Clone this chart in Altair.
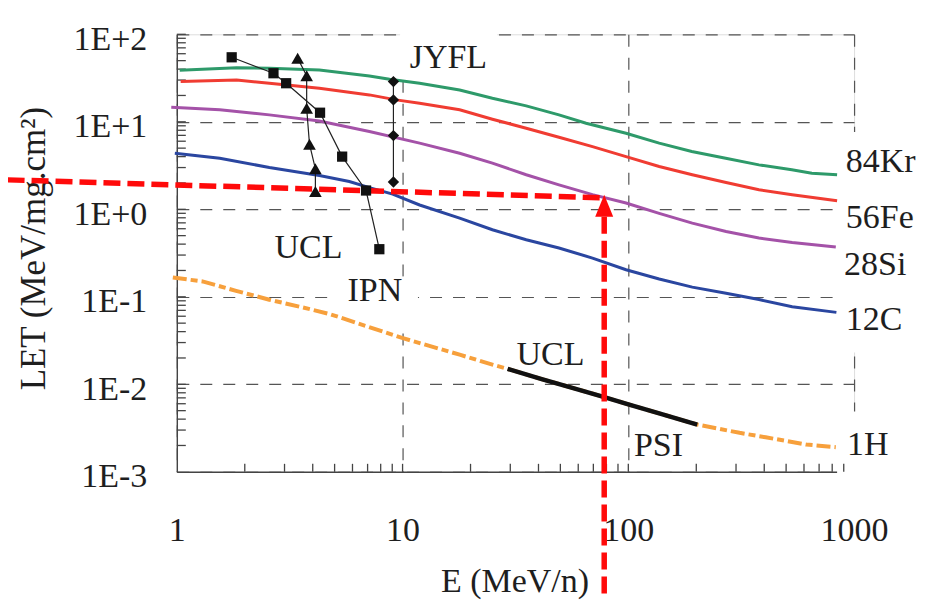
import altair as alt
import pandas as pd

# ---------------- data ----------------
# Stopping-power curves: energy (MeV/n) vs LET (MeV/mg.cm2)
kr_e = [1.03, 1.84, 2.57, 4.28, 7.13, 8.76, 11.9, 17.9, 25.0, 35.3, 49.3, 65.0, 97.7, 137, 191, 270, 379, 530, 650, 841]
kr_let = [38.8, 41.5, 40.9, 39.1, 33.4, 30.6, 27.6, 23.1, 18.6, 15.2, 12.0, 9.64, 7.41, 5.70, 4.57, 3.84, 3.22, 2.83, 2.59, 2.48]
fe_e = [1.04, 1.84, 2.57, 4.28, 7.13, 9.37, 11.9, 17.9, 25.0, 35.3, 49.3, 69.4, 97.7, 137, 192, 271, 379, 532, 841]
fe_let = [28.8, 30.0, 27.6, 24.2, 20.3, 17.8, 16.3, 13.7, 10.7, 8.45, 6.67, 5.21, 4.0, 3.08, 2.48, 2.02, 1.67, 1.47, 1.25]
si_e = [0.945, 1.55, 2.57, 4.28, 7.13, 11.9, 17.9, 25.0, 35.3, 49.3, 69.4, 97.7, 137, 192, 271, 379, 532, 830]
si_let = [14.7, 13.7, 12.0, 10.2, 7.73, 5.70, 4.37, 3.37, 2.48, 1.90, 1.47, 1.18, 0.90, 0.695, 0.558, 0.469, 0.418, 0.370]
c_e = [0.98, 1.55, 2.57, 4.28, 5.81, 7.13, 9.04, 11.9, 17.9, 25.0, 35.3, 49.3, 69.4, 97.7, 137, 192, 271, 379, 532, 835]
c_let = [4.37, 3.84, 3.00, 2.43, 2.08, 1.77, 1.49, 1.12, 0.794, 0.584, 0.449, 0.361, 0.277, 0.204, 0.160, 0.129, 0.110, 0.093, 0.077, 0.0664]
h_e = [0.96, 1.30, 1.83, 2.57, 3.61, 4.74, 9.95, 17.9, 25.0, 29.2, 41.7, 55.0, 77.6, 100, 137, 202, 311, 406, 614, 830]
h_let = [0.166, 0.150, 0.117, 0.0927, 0.0757, 0.0637, 0.0339, 0.0218, 0.0168, 0.0150, 0.0114, 0.0093, 0.0072, 0.0059, 0.00466, 0.00347, 0.00279, 0.00248, 0.00205, 0.00191]

ions = ["84Kr", "56Fe", "28Si", "12C"]
ion_colors = ["#2e9a6a", "#f03c32", "#a452a8", "#2a46a0"]
h_color = "#f7a03c"

# proton range measured at UCL / PSI (black segment)
beam_lo, beam_hi = 29.2, 202

# experimental facility points
ipn_e = [1.75, 2.68, 3.05, 4.31, 5.40, 6.89, 7.89]
ipn_let = [54.6, 35.9, 27.6, 12.7, 4.0, 1.64, 0.35]
ucl_e = [3.43, 3.76, 3.76, 3.87, 4.11, 4.11]
ucl_let = [53.2, 33.6, 14.3, 5.55, 2.90, 1.60]
jyfl_e = [9.11, 9.11, 9.11, 9.11]
jyfl_let = [28.8, 17.8, 6.96, 2.05]

# in-plot annotations
ann_text = ["JYFL", "UCL", "IPN", "UCL", "PSI"]
ann_e = [15.95, 3.83, 7.54, 45.2, 136]
ann_let = [41.2, 0.277, 0.0902, 0.0168, 0.00151]

# curve labels on the right
lab_text = ["84Kr", "56Fe", "28Si", "12C", "1H"]
lab_e = [919, 919, 903, 919, 931]
lab_let = [2.70, 0.610, 0.179, 0.0413, 0.00157]

# white label boxes hiding grid lines
box_e1 = [9.75, 4.99, 841, 841]
box_e2 = [26.3, 11.7, 1150, 1150]
box_l1 = [29.3, 0.0481, 0.0231, 0.00085]
box_l2 = [108, 0.1696, 7.67, 0.00488]

# red reading arrow (E ~ 78 MeV/n, LET ~ 1.35)
arrow_line_e = [0.178, 78.2]
arrow_line_let = [2.17, 1.353]
arrow_e = 78.2
arrow_head_let = 1.096
arrow_v_top, arrow_v_bottom = 0.821, 3e-5

x_ticks = [1, 10, 100, 1000]
y_ticks = [0.001, 0.01, 0.1, 1, 10, 100]
minor_mult = [2, 3, 4, 5, 6, 7, 8, 9]

# ---------------- build tables ----------------
curves = pd.DataFrame(
    [dict(ion=n, e=e, let=l) for n, es, ls in
     zip(ions, [kr_e, fe_e, si_e, c_e], [kr_let, fe_let, si_let, c_let])
     for e, l in zip(es, ls)]
)
h_df = pd.DataFrame({"e": h_e, "let": h_let})
beam_df = h_df[(h_df.e >= beam_lo) & (h_df.e <= beam_hi)]

ipn_df = pd.DataFrame({"e": ipn_e, "let": ipn_let, "o": range(len(ipn_e))})
ucl_df = pd.DataFrame({"e": ucl_e, "let": ucl_let, "o": range(len(ucl_e))})
jyfl_df = pd.DataFrame({"e": jyfl_e, "let": jyfl_let, "o": range(len(jyfl_e))})
ann_df = pd.DataFrame({"t": ann_text, "e": ann_e, "let": ann_let})
lab_df = pd.DataFrame({"t": lab_text, "e": lab_e, "let": lab_let})
box_df = pd.DataFrame({"e": box_e1, "e2": box_e2, "let": box_l1, "let2": box_l2})

x_minor = [m * d for d in [1, 10, 100] for m in minor_mult] + [10, 100]
y_minor = [m * d for d in [0.001, 0.01, 0.1, 1, 10] for m in minor_mult] + [0.01, 0.1, 1, 10, 100]
xtick_df = pd.DataFrame({"e": x_minor, "let": 0.001, "let2": 0.001 * 10 ** (8 / 87.6)})
ytick_df = pd.DataFrame({"e": 1.0, "e2": 10 ** (9 / 225.9), "let": y_minor})

arrow_df = pd.DataFrame({"e": arrow_line_e, "let": arrow_line_let})
vline_df = pd.DataFrame({"e": [arrow_e], "let": [arrow_v_top], "let2": [arrow_v_bottom]})
head_df = pd.DataFrame({"e": [arrow_e], "let": [arrow_head_let]})

# ---------------- scales / axes ----------------
FONT = "Liberation Serif"
TXT = "#1e1e1e"
xs = alt.Scale(type="log", domain=[1, 1000])
ys = alt.Scale(type="log", domain=[0.001, 100])

x_axis = alt.Axis(
    values=x_ticks, format=".0f", title="E (MeV/n)",
    grid=True, gridDash=[12, 11], gridColor="#555555", gridWidth=1.2,
    domain=True, domainColor="#444444", domainWidth=1.4,
    ticks=False, tickSize=0, labelFlush=False, labelOverlap=False,
    labelFont=FONT, labelFontSize=34, labelColor=TXT,
    labelBaseline="alphabetic", labelPadding=69,
    titleFont=FONT, titleFontSize=34, titleFontWeight="normal", titleColor=TXT,
    titleX=338, titleY=120, titleAlign="center", titleBaseline="alphabetic",
)
y_axis = alt.Axis(
    values=y_ticks,
    labelExpr="'1E' + (round(log(datum.value)/LN10) >= 0 ? '+' : '') + round(log(datum.value)/LN10)",
    title="LET (MeV/mg.cm²)",
    grid=True, gridDash=[12, 11], gridColor="#555555", gridWidth=1.2,
    domain=True, domainColor="#444444", domainWidth=1.4,
    ticks=False, tickSize=0, labelFlush=False, labelOverlap=False,
    labelFont=FONT, labelFontSize=34, labelColor=TXT,
    labelBaseline="alphabetic", labelOffset=15, labelPadding=30,
    titleFont=FONT, titleFontSize=35, titleFontWeight="normal", titleColor=TXT,
    titleX=-132, titleY=214, titleAngle=270, titleAlign="center", titleBaseline="alphabetic",
)

X = alt.X("e:Q", scale=xs, axis=x_axis)
Y = alt.Y("let:Q", scale=ys, axis=y_axis)
X2 = alt.X2("e2:Q")
Y2 = alt.Y2("let2:Q")

# ---------------- layers ----------------
boxes = alt.Chart(box_df).mark_rect(fill="white", clip=False).encode(x=X, x2=X2, y=Y, y2=Y2)

xticks = alt.Chart(xtick_df).mark_rule(color="#444444", strokeWidth=1.3).encode(x=X, y=Y, y2=Y2)
yticks = alt.Chart(ytick_df).mark_rule(color="#444444", strokeWidth=1.3).encode(x=X, x2=X2, y=Y)

ion_lines = alt.Chart(curves).mark_line(strokeWidth=3, clip=False).encode(
    x=X, y=Y,
    color=alt.Color("ion:N", scale=alt.Scale(domain=ions, range=ion_colors), legend=None),
    detail="ion:N",
)
h_line = alt.Chart(h_df).mark_line(
    strokeWidth=4, color=h_color, strokeDash=[14, 4, 7, 4], clip=False
).encode(x=X, y=Y)
beam_line = alt.Chart(beam_df).mark_line(strokeWidth=4.5, color="#111111").encode(x=X, y=Y)

arrow_h = alt.Chart(arrow_df).mark_line(
    color="#ff0a0a", strokeWidth=5.5, strokeDash=[17, 7], clip=False
).encode(x=X, y=Y)
arrow_v = alt.Chart(vline_df).mark_rule(
    color="#ff0a0a", strokeWidth=5.5, strokeDash=[17, 7], clip=False
).encode(x=X, y=Y, y2=Y2)
arrow_head = alt.Chart(head_df).mark_point(
    shape="M0,-1L-0.82,1L0.82,1Z", filled=True, color="#ff0a0a", opacity=1, size=484, clip=False
).encode(x=X, y=Y)

def facility(df, shape, size):
    line = alt.Chart(df).mark_line(color="#222222", strokeWidth=1.2).encode(x=X, y=Y, order="o:Q")
    pts = alt.Chart(df).mark_point(shape=shape, filled=True, color="#111111", opacity=1, size=size).encode(x=X, y=Y)
    return line + pts

ipn = facility(ipn_df, "square", 105)
ucl = facility(ucl_df, "triangle-up", 160)
jyfl = facility(jyfl_df, "diamond", 130)

ann = alt.Chart(ann_df).mark_text(
    font=FONT, fontSize=34, color=TXT, align="center", baseline="alphabetic"
).encode(x=X, y=Y, text="t:N")
labs = alt.Chart(lab_df).mark_text(
    font=FONT, fontSize=34, color=TXT, align="left", baseline="alphabetic", clip=False
).encode(x=X, y=Y, text="t:N")

chart = alt.layer(
    boxes, xticks, yticks, ion_lines, h_line, beam_line,
    arrow_h, arrow_v, arrow_head, ipn, ucl, jyfl, ann, labs
).properties(
    width=678, height=438,
    padding={"left": 169, "top": 26, "right": 66, "bottom": 128},
    autosize=alt.AutoSizeParams(type="none"),
).configure_view(stroke=None).configure(background="white")

chart.save("out.html", embed_options={"renderer": "svg", "actions": False})
